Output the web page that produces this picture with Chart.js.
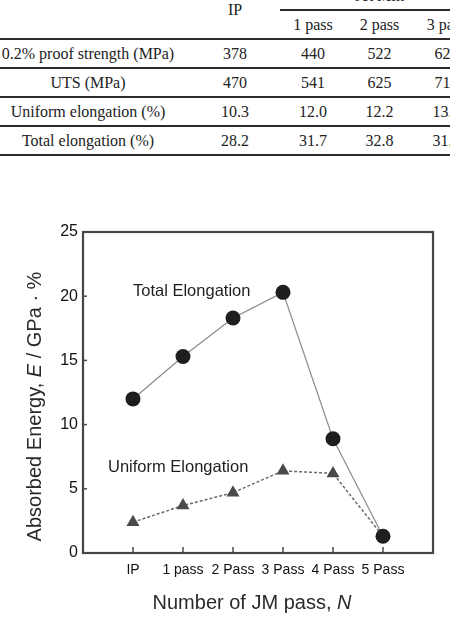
<!DOCTYPE html>
<html>
<head>
<meta charset="utf-8">
<script src="https://cdn.jsdelivr.net/npm/chart.js@4"></script>
<style>
  body { margin: 0; background: #fff; }
  #page { position: relative; width: 450px; height: 618px; overflow: hidden; }
  #tbl { position: absolute; left: -14px; top: -18px; width: 494px; border-collapse: collapse; table-layout: fixed;
         font-family: "Liberation Serif", "Times New Roman", serif; font-size: 16px; color: #222; }
  #tbl td { text-align: center; padding: 0; white-space: nowrap; }
  #tbl tr.a td { height: 27px; }
  #tbl tr.b td, #tbl tr.d td { height: 27px; border-bottom: 2px solid #2a2a2a; }
  #tbl td.jm { border-bottom: 2px solid #2a2a2a; }
  #tbl td.hb { border-bottom: 2px solid #2a2a2a; }
  #wrap { position: absolute; left: 0; top: 200px; width: 450px; height: 418px; }
</style>
</head>
<body>
<div id="page">
  <table id="tbl"></table>
  <div id="wrap"><canvas id="energyChart" width="450" height="418"></canvas></div>
</div>
<script>
// table data
var tableCols = ["IP", "1 pass", "2 pass", "3 pass"];
var tableRows = ["0.2% proof strength (MPa)", "UTS (MPa)", "Uniform elongation (%)", "Total elongation (%)"];
var tableVals = [
    ["378", "440", "522", "624"],
    ["470", "541", "625", "713"],
    ["10.3", "12.0", "12.2", "13.6"],
    ["28.2", "31.7", "32.8", "31.5"]
];

// chart data
var passLabels = ["IP", "1 pass", "2 Pass", "3 Pass", "4 Pass", "5 Pass"];
var totalElong = [12.0, 15.3, 18.3, 20.3, 8.9, 1.3];
var uniformElong = [2.4, 3.7, 4.7, 6.4, 6.2, 1.3];
var noteText = ["Total Elongation", "Uniform Elongation"];
var noteX = [0, -0.5];
var noteY = [20.4, 6.7];

// build the table
var colWidths = [204, 90, 66, 67, 67];
var tbl = document.getElementById("tbl");
var html = "<colgroup>";
colWidths.forEach(function (w) { html += '<col style="width:' + w + 'px">'; });
html += "</colgroup>";
html += '<tr class="a"><td rowspan="2" class="hb"></td><td rowspan="2" class="hb">' + tableCols[0] +
        '</td><td colspan="3" class="jm">Jet Mill</td></tr>';
html += '<tr class="b">';
for (var c = 1; c < tableCols.length; c++) html += "<td>" + tableCols[c] + "</td>";
html += "</tr>";
tableRows.forEach(function (r, i) {
    html += '<tr class="d"><td>' + r + "</td>";
    tableVals[i].forEach(function (v) { html += "<td>" + v + "</td>"; });
    html += "</tr>";
});
tbl.innerHTML = html;

var toPoints = function (vals) {
    return vals.map(function (v, i) { return {x: i, y: v}; });
};

var sans = '"Liberation Sans", Arial, sans-serif';

var decor = {
    id: 'decor',
    afterDatasetsDraw: function (chart) {
        var ctx = chart.ctx, a = chart.chartArea;
        var xs = chart.scales.x, ys = chart.scales.y;
        ctx.save();
        // inner ticks
        ctx.strokeStyle = '#4a4a4a';
        ctx.lineWidth = 1.5;
        ys.ticks.forEach(function (t) {
            if (t.value <= ys.min || t.value >= ys.max) return;
            var py = ys.getPixelForValue(t.value);
            ctx.beginPath(); ctx.moveTo(a.left, py); ctx.lineTo(a.left + 4, py); ctx.stroke();
        });
        passLabels.forEach(function (l, i) {
            var px = xs.getPixelForValue(i);
            ctx.beginPath(); ctx.moveTo(px, a.bottom); ctx.lineTo(px, a.bottom - 6); ctx.stroke();
        });
        // frame
        ctx.lineWidth = 2.2;
        ctx.strokeStyle = '#454545';
        ctx.strokeRect(a.left, a.top, a.right - a.left, a.bottom - a.top);
        // notes
        ctx.fillStyle = '#1e1e1e';
        ctx.font = '16.5px ' + sans;
        ctx.textAlign = 'left';
        ctx.textBaseline = 'middle';
        noteText.forEach(function (t, i) {
            ctx.fillText(t, xs.getPixelForValue(noteX[i]), ys.getPixelForValue(noteY[i]));
        });
        // axis titles with italic symbols
        var drawParts = function (parts, x, y) {
            var total = 0;
            parts.forEach(function (p) { ctx.font = p[1] + ' 20px ' + sans; total += ctx.measureText(p[0]).width; });
            var cx = x - total / 2;
            parts.forEach(function (p) {
                ctx.font = p[1] + ' 20px ' + sans;
                ctx.fillText(p[0], cx, y);
                cx += ctx.measureText(p[0]).width;
            });
        };
        ctx.fillStyle = '#2a2a2a';
        drawParts([["Number of JM pass, ", "normal"], ["N", "italic"]], (a.left + a.right) / 2 - 6, a.bottom + 50);
        ctx.translate(a.left - 48, (a.top + a.bottom) / 2 + 14);
        ctx.rotate(-Math.PI / 2);
        drawParts([["Absorbed Energy, ", "normal"], ["E", "italic"], [" / GPa \u00b7 %", "normal"]], 0, 0);
        ctx.restore();
    }
};

var energyChart = new Chart(document.getElementById("energyChart"), {
    type: 'line',
    data: {
        datasets: [
            {
                label: 'Total Elongation',
                data: toPoints(totalElong),
                borderColor: '#8a8a8a',
                borderWidth: 1.2,
                pointStyle: 'circle',
                pointRadius: 7.5,
                pointBackgroundColor: '#1e1e1e',
                pointBorderColor: '#1e1e1e',
                pointBorderWidth: 0,
                clip: false
            },
            {
                label: 'Uniform Elongation',
                data: toPoints(uniformElong),
                borderColor: '#6a6a6a',
                borderWidth: 1.5,
                borderDash: [3, 2],
                pointStyle: 'triangle',
                pointRadius: 7.5,
                pointBackgroundColor: '#4a4a4a',
                pointBorderColor: '#4a4a4a',
                pointBorderWidth: 0,
                clip: false
            }
        ]
    },
    options: {
        responsive: false,
        animation: false,
        layout: {padding: {top: 32, right: 17, left: 0, bottom: 0}},
        plugins: {legend: {display: false}, tooltip: {enabled: false}},
        scales: {
            x: {
                type: 'linear',
                min: -1,
                max: 6,
                grid: {display: false, drawTicks: false},
                border: {display: false},
                afterFit: function (s) { s.height = 65; },
                ticks: {
                    stepSize: 1,
                    autoSkip: false,
                    maxRotation: 0,
                    padding: 9,
                    color: '#111',
                    font: {family: sans, size: 14},
                    callback: function (v) { return passLabels[v] || ''; }
                }
            },
            y: {
                min: 0,
                max: 25,
                grid: {display: false, drawTicks: false},
                border: {display: false},
                afterFit: function (s) { s.width = 83; },
                ticks: {
                    stepSize: 5,
                    padding: 5,
                    color: '#111',
                    font: {family: sans, size: 16}
                }
            }
        }
    },
    plugins: [decor]
});
</script>
</body>
</html>
